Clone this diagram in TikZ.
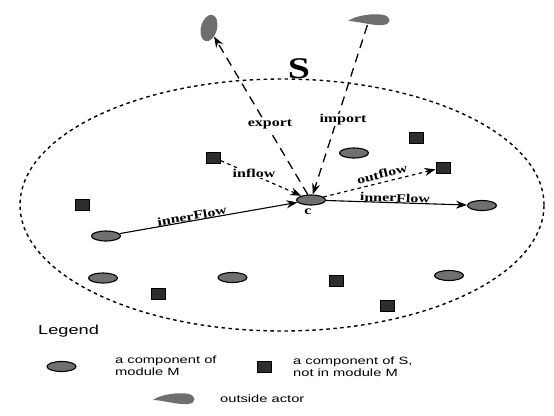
\documentclass[tikz,border=0pt]{standalone}
\usepackage{fontspec}
\setmainfont{Liberation Serif}[FakeStretch=1.33]
\newfontfamily\legendfont{Liberation Sans}[FakeStretch=1.4]
\usepackage{xcolor}
\usetikzlibrary{arrows.meta,shapes.geometric}

\definecolor{compgray}{RGB}{112,112,112}
\definecolor{othergray}{RGB}{45,45,45}
\definecolor{actorgray}{RGB}{110,110,110}

\begin{document}
\begin{tikzpicture}[
    x=1pt, y=-1pt,
    >={Stealth[length=11pt,width=8pt]},
    comp/.style={ellipse, draw, line width=1.1pt, fill=compgray, minimum width=29pt, minimum height=10pt, inner sep=0pt},
    other/.style={rectangle, draw, line width=0.9pt, fill=othergray, minimum width=14pt, minimum height=11pt, inner sep=0pt},
    actor/.style={ellipse, fill=actorgray, inner sep=0pt},
    lbl/.style={font=\fontsize{12}{12}\selectfont\bfseries, inner sep=1pt},
    lgd/.style={font=\legendfont\fontsize{10.5}{12}\selectfont, align=left, anchor=west, inner sep=0pt},
    bigdash/.style={line width=1.3pt, dash pattern=on 9pt off 6pt},
    smalldash/.style={line width=1.2pt, dash pattern=on 3.5pt off 3.5pt},
    solidflow/.style={line width=1.1pt},
    bean/.pic={\fill[actorgray] (-21,1) .. controls (-13,-5) and (6,-7) .. (15,-5)
        .. controls (22,-3) and (23,4) .. (14,5) .. controls (4,6) and (-12,1) .. (-21,1) -- cycle;}
]
\useasboundingbox (0,0) rectangle (554,415);

% === Boundary of S ===
\draw[smalldash, line width=1.4pt] (282,205) ellipse [x radius=262pt, y radius=126pt];
\node[font=\fontsize{30}{30}\selectfont\bfseries] (Slabel) at (299,69) {S};

% === Components of module M ===
\node[comp] (c) at (311,200) {};
\node[comp] (mTop) at (354,153) {};
\node[comp] (mRight) at (482,205.5) {};
\node[comp] (mLeft) at (106,236) {};
\node[comp] (mLowL) at (103,278) {};
\node[comp] (mLowM) at (232.5,277.5) {};
\node[comp] (mLowR) at (449,275.5) {};

% === Components of S, not in M ===
\node[other] (oIn) at (213.5,157.5) {};
\node[other] (oTop) at (416.5,138) {};
\node[other] (oOut) at (443,167.5) {};
\node[other] (oLeft) at (82,204.5) {};
\node[other] (oLowL) at (158,293.5) {};
\node[other] (oLowM) at (336,280.5) {};
\node[other] (oLowR) at (387,305.5) {};

% === Outside actors ===
\node[actor, rotate=-15, minimum width=16pt, minimum height=27pt] (actExp) at (209,28) {};
\pic at (369,20) {bean};
\node[ellipse, minimum width=40pt, minimum height=10pt, inner sep=0pt] (actImp) at (369,20) {};

% === Flows ===
\draw[bigdash, ->] (c) -- (actExp);
\draw[bigdash, ->] (actImp) -- (c);
\draw[smalldash, ->] (oIn) -- (c);
\draw[smalldash, ->] (c) -- (oOut);
\draw[solidflow, ->] (mLeft) -- (c);
\draw[solidflow, ->] (c) -- (mRight);

% Flow labels
\node[lbl, fill=white] (lExp) at (270,124) {export};
\node[lbl, fill=white] (lImp) at (343,120) {import};
\node[lbl, fill=white] (lIn) at (254,173) {inflow};
\node[lbl, fill=white, inner sep=0.5pt, rotate=14] (lOut) at (382,174) {outflow};
\node[lbl, rotate=-2] (lInnerR) at (395,198) {innerFlow};
\node[lbl, rotate=10] (lInnerL) at (192,216) {innerFlow};
\node[lbl] (lc) at (308,212) {c};

% === Legend ===
\node[font=\legendfont\fontsize{13}{13}\selectfont, anchor=west, inner sep=0pt] (legTitle) at (38,331) {Legend};
\node[comp] (legComp) at (61.5,366.5) {};
\node[lgd] (legCompTxt) at (115,366) {a component of\\module M};
\node[other] (legOther) at (264.5,367) {};
\node[lgd] (legOtherTxt) at (293,367) {a component of S,\\not in module M};
\pic at (174,399) {bean};
\node[lgd] (legActTxt) at (220,399) {outside actor};
\end{tikzpicture}
\end{document}
